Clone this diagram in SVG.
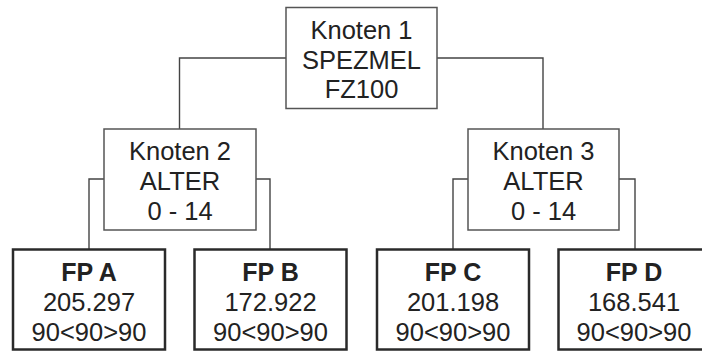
<svg xmlns="http://www.w3.org/2000/svg" width="702" height="352" viewBox="0 0 702 352">
<style>
.bg{fill:#fff}
.n{fill:#fff;stroke:#555;stroke-width:1.5}
.l{fill:#fff;stroke:#2a2a2a;stroke-width:2.5}
.c{fill:none;stroke:#444;stroke-width:1.4}
text{font-family:"Liberation Sans",Arial,sans-serif;font-size:25.5px;fill:#222;text-anchor:middle}
.b{font-weight:bold;font-size:25px}
</style>
<rect class="bg" x="0" y="0" width="702" height="352"/>
<g id="connectors">
<path class="c" d="M286 58H179.5V129"/>
<path class="c" d="M437 58H543V129"/>
<path class="c" d="M104 179H89V249"/>
<path class="c" d="M256 179H270V249"/>
<path class="c" d="M468 179H453V249"/>
<path class="c" d="M619 179H635V249"/>
</g>
<g id="n1">
<rect class="n" x="286" y="7.5" width="151" height="101"/>
<text x="361.5" y="39">Knoten 1</text>
<text x="361.5" y="68.5">SPEZMEL</text>
<text x="361.5" y="97.5">FZ100</text>
</g>
<g id="n2">
<rect class="n" x="104" y="129" width="152" height="101"/>
<text x="180" y="159.5">Knoten 2</text>
<text x="180" y="189.5">ALTER</text>
<text x="180" y="219.5">0 - 14</text>
</g>
<g id="n3">
<rect class="n" x="468" y="129" width="151" height="101"/>
<text x="543.5" y="159.5">Knoten 3</text>
<text x="543.5" y="189.5">ALTER</text>
<text x="543.5" y="219.5">0 - 14</text>
</g>
<g id="fpA">
<rect class="l" x="13" y="249.5" width="152" height="100"/>
<text class="b" x="89" y="281">FP A</text>
<text x="89" y="311">205.297</text>
<text x="89" y="341">90&lt;90&gt;90</text>
</g>
<g id="fpB">
<rect class="l" x="194.5" y="249.5" width="152" height="100"/>
<text class="b" x="270.5" y="281">FP B</text>
<text x="270.5" y="311">172.922</text>
<text x="270.5" y="341">90&lt;90&gt;90</text>
</g>
<g id="fpC">
<rect class="l" x="377" y="249.5" width="152" height="100"/>
<text class="b" x="453" y="281">FP C</text>
<text x="453" y="311">201.198</text>
<text x="453" y="341">90&lt;90&gt;90</text>
</g>
<g id="fpD">
<rect class="l" x="558.5" y="249.5" width="152" height="100"/>
<text class="b" x="634" y="281">FP D</text>
<text x="634" y="311">168.541</text>
<text x="634" y="341">90&lt;90&gt;90</text>
</g>
</svg>
